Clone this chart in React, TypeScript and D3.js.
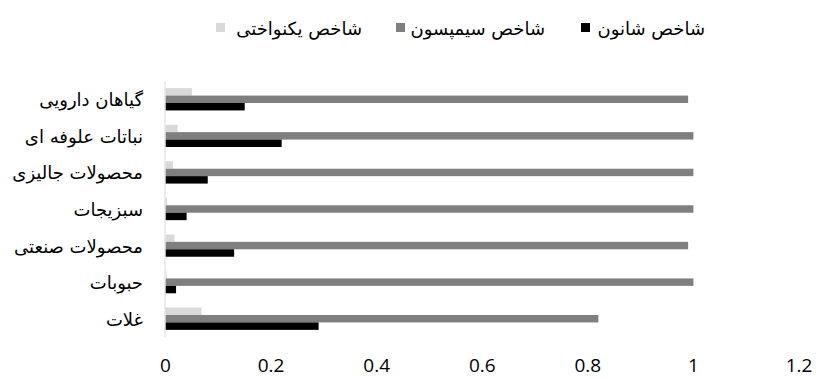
import React from "react";
import * as d3 from "d3";

// Categories, top to bottom
const categories = [
  "گیاهان دارویی",
  "نباتات علوفه ای",
  "محصولات جالیزی",
  "سبزیجات",
  "محصولات صنعتی",
  "حبوبات",
  "غلات",
];

// Series values (same order as categories)
const shannon = [0.15, 0.22, 0.08, 0.04, 0.13, 0.02, 0.29];
const simpson = [0.99, 1.0, 1.0, 1.0, 0.99, 1.0, 0.82];
const evenness = [0.05, 0.023, 0.014, 0.003, 0.017, 0.002, 0.068];

const seriesNames = ["شاخص شانون", "شاخص سیمپسون", "شاخص یکنواختی"];
const xTicks = [0, 0.2, 0.4, 0.6, 0.8, 1, 1.2];

const W = 816;
const H = 379;
const ARABIC = "'DejaVu Sans', sans-serif";
const NUM = "'Open Sans', sans-serif";

export default function App() {
  const x = d3.scaleLinear().domain([0, 1.2]).range([165.5, 799]);
  const y = d3
    .scaleBand<string>()
    .domain(categories)
    .range([81, 337])
    .paddingInner(0.39)
    .paddingOuter(0.195);
  const series = [
    { key: "evenness", values: evenness, color: "#d9d9d9", name: seriesNames[2] },
    { key: "simpson", values: simpson, color: "#7f7f7f", name: seriesNames[1] },
    { key: "shannon", values: shannon, color: "#000000", name: seriesNames[0] },
  ];
  const inner = d3
    .scaleBand<string>()
    .domain(series.map((s) => s.key))
    .range([0, y.bandwidth()]);

  const legend = [
    { color: "#d9d9d9", name: seriesNames[2], sx: 216, tx: 362 },
    { color: "#7f7f7f", name: seriesNames[1], sx: 396, tx: 545 },
    { color: "#000000", name: seriesNames[0], sx: 581, tx: 705 },
  ];

  return (
    <svg
      width={W}
      height={H}
      style={{ position: "absolute", left: 0, top: 0, background: "#fff" }}
    >
      <rect x={0} y={0} width={W} height={H} fill="#fff" />
      {/* legend */}
      {legend.map((l) => (
        <g key={l.name}>
          <rect x={l.sx} y={23} width={9} height={9} fill={l.color} />
          <text
            x={l.tx}
            y={35}
            textAnchor="end"
            fontFamily={ARABIC}
            fontSize={18}
            fill="#000"
          >
            {l.name}
          </text>
        </g>
      ))}
      {/* bars */}
      {categories.map((c, i) => (
        <g key={c} transform={`translate(0,${y(c)})`}>
          {series.map((s) => (
            <rect
              key={s.key}
              x={x(0)}
              y={inner(s.key)}
              width={x(s.values[i]) - x(0)}
              height={inner.bandwidth()}
              fill={s.color}
            />
          ))}
          <text
            x={143}
            y={y.bandwidth() / 2 + 7}
            textAnchor="end"
            fontFamily={ARABIC}
            fontSize={18}
            fill="#000"
          >
            {c}
          </text>
        </g>
      ))}
      {/* axis line */}
      <line x1={165} x2={165} y1={81} y2={337} stroke="#d9d9d9" strokeWidth={1} />
      {/* x tick labels */}
      {xTicks.map((t) => (
        <text
          key={t}
          x={x(t)}
          y={372}
          textAnchor="middle"
          fontFamily={NUM}
          fontSize={19}
          fill="#000"
        >
          {String(t)}
        </text>
      ))}
    </svg>
  );
}
